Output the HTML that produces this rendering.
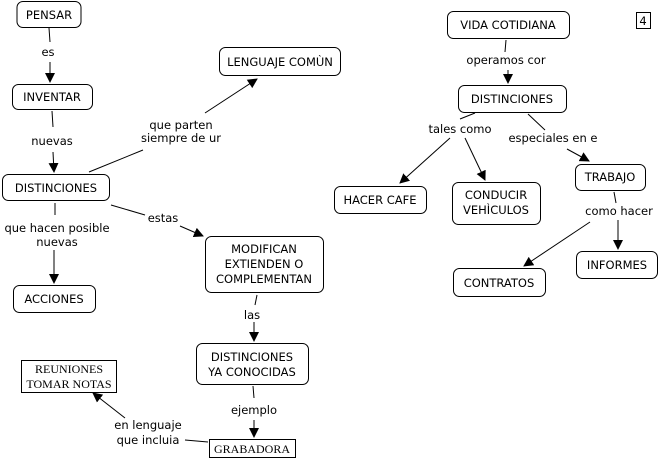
<!DOCTYPE html>
<html><head><meta charset="utf-8"><style>
html,body{margin:0;padding:0;background:#fff;}
svg{display:block;}
text{font-family:"DejaVu Sans","Liberation Sans",sans-serif;font-size:11.5px;fill:#000;}
.s{font-family:"Liberation Serif",serif;font-size:12px;}
rect{fill:#fff;stroke:#000;stroke-width:1;}
line{stroke:#000;stroke-width:1;}
</style></head><body>
<svg width="659" height="460" viewBox="0 0 659 460" xmlns="http://www.w3.org/2000/svg">
<defs><marker id="a" markerWidth="10" markerHeight="10" refX="9" refY="5" orient="auto" markerUnits="userSpaceOnUse"><path d="M0,0 L10,5 L0,10 z" fill="#000"/></marker></defs>
<g>
<!-- edges -->
<line x1="49" y1="28" x2="50" y2="42"/><line x1="50" y1="62" x2="50" y2="82" marker-end="url(#a)"/>
<line x1="52" y1="111" x2="53" y2="127"/><line x1="53" y1="152" x2="54" y2="172" marker-end="url(#a)"/>
<line x1="89" y1="172" x2="143" y2="150"/><line x1="205" y1="113" x2="257" y2="79" marker-end="url(#a)"/>
<line x1="111" y1="205" x2="145" y2="215"/><line x1="180" y1="226" x2="203" y2="236" marker-end="url(#a)"/>
<line x1="55" y1="203" x2="55" y2="215"/><line x1="54" y1="250" x2="54" y2="283" marker-end="url(#a)"/>
<line x1="257" y1="295" x2="255" y2="305"/><line x1="254" y1="322" x2="254" y2="341" marker-end="url(#a)"/>
<line x1="253" y1="386" x2="254" y2="398"/><line x1="254" y1="420" x2="254" y2="437" marker-end="url(#a)"/>
<line x1="208" y1="442" x2="185" y2="440"/><line x1="125" y1="418" x2="93" y2="393" marker-end="url(#a)"/>
<line x1="506" y1="40" x2="505" y2="52"/><line x1="508" y1="70" x2="508" y2="83" marker-end="url(#a)"/>
<line x1="475" y1="113" x2="460" y2="119"/><line x1="450" y1="138" x2="400" y2="183" marker-end="url(#a)"/><line x1="465" y1="138" x2="485" y2="180" marker-end="url(#a)"/>
<line x1="528" y1="114" x2="545" y2="130"/><line x1="567" y1="149" x2="589" y2="161" marker-end="url(#a)"/>
<line x1="614" y1="192" x2="616" y2="203"/><line x1="618" y1="220" x2="618" y2="249" marker-end="url(#a)"/><line x1="590" y1="222" x2="524" y2="266" marker-end="url(#a)"/>
<!-- nodes -->
<rect x="17" y="1.5" width="64" height="26" rx="6"/>
<rect x="12.5" y="84.5" width="80" height="25" rx="6"/>
<rect x="219.5" y="47.5" width="121" height="28" rx="6"/>
<rect x="2.5" y="174.5" width="107" height="26" rx="6"/>
<rect x="13.5" y="285.5" width="82" height="27" rx="6"/>
<rect x="205.5" y="236.5" width="118" height="56" rx="6"/>
<rect x="196.5" y="343.5" width="112" height="41" rx="6"/>
<rect x="21.5" y="360.5" width="95" height="32"/>
<rect x="209.5" y="439.5" width="86" height="18"/>
<rect x="447.5" y="11.5" width="122" height="27" rx="6"/>
<rect x="636.5" y="12.5" width="14" height="16"/>
<rect x="458.5" y="85.5" width="108" height="27" rx="6"/>
<rect x="334.5" y="186.5" width="92" height="27" rx="6"/>
<rect x="452.5" y="182.5" width="88" height="42" rx="6"/>
<rect x="575.5" y="164.5" width="70" height="26" rx="6"/>
<rect x="576.5" y="251.5" width="81" height="27" rx="6"/>
<rect x="453.5" y="268.5" width="92" height="28" rx="6"/>
</g>
<g text-anchor="middle">
<text x="49" y="19">PENSAR</text>
<text x="52" y="101">INVENTAR</text>
<text x="280" y="66">LENGUAJE COMÙN</text>
<text x="56" y="192">DISTINCIONES</text>
<text x="54" y="303">ACCIONES</text>
<text x="264" y="253">MODIFICAN</text><text x="264" y="268">EXTIENDEN O</text><text x="264" y="283">COMPLEMENTAN</text>
<text x="252" y="361">DISTINCIONES</text><text x="252" y="376">YA CONOCIDAS</text>
<text class="s" x="69" y="373">REUNIONES</text><text class="s" x="69" y="388">TOMAR NOTAS</text>
<text class="s" x="252" y="453">GRABADORA</text>
<text x="508" y="29">VIDA COTIDIANA</text>
<text x="643" y="25">4</text>
<text x="512" y="103">DISTINCIONES</text>
<text x="380" y="204">HACER CAFE</text>
<text x="496" y="199">CONDUCIR</text><text x="496" y="214">VEHÌCULOS</text>
<text x="610" y="181">TRABAJO</text>
<text x="617" y="269">INFORMES</text>
<text x="499" y="287">CONTRATOS</text>
<text x="48" y="56">es</text>
<text x="52" y="145">nuevas</text>
<text x="181" y="129">que parten</text><text x="181" y="142">siempre de ur</text>
<text x="163" y="222">estas</text>
<text x="57" y="232">que hacen posible</text><text x="57" y="246">nuevas</text>
<text x="252" y="319">las</text>
<text x="254" y="414">ejemplo</text>
<text x="148" y="429">en lenguaje</text><text x="148" y="444">que incluia</text>
<text x="506" y="64">operamos cor</text>
<text x="460" y="133">tales como</text>
<text x="553" y="142">especiales en e</text>
<text x="619" y="215">como hacer</text>
</g>
</svg>
</body></html>
